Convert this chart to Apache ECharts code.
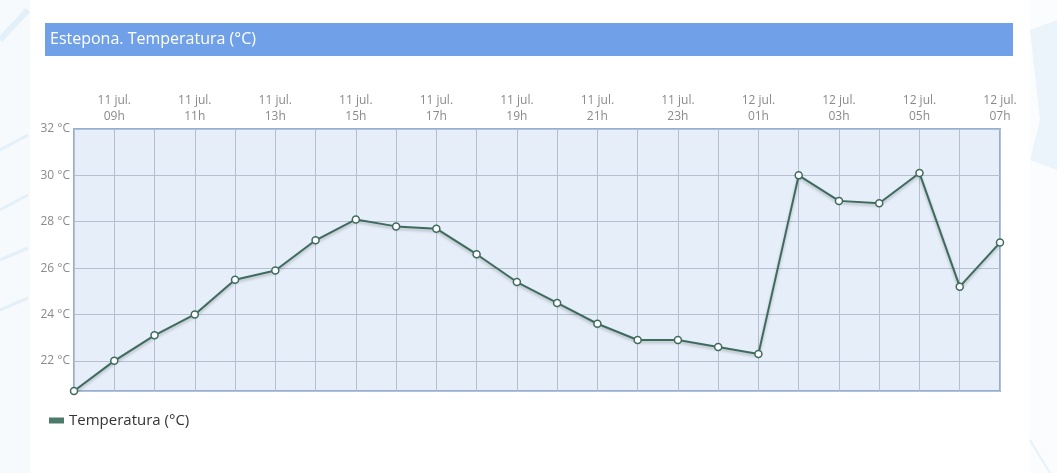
<!DOCTYPE html>
<html>
<head>
<meta charset="utf-8">
<script src="https://cdn.jsdelivr.net/npm/echarts@6/dist/echarts.min.js"></script>
<style>
html,body{margin:0;padding:0;background:#fff;}
#c{width:1057px;height:473px;}
</style>
</head>
<body>
<div id="c"></div>
<script>
const chartTitle = 'Estepona. Temperatura (°C)';
const seriesName = 'Temperatura (°C)';
const categories = [
  '11 jul.\n08h','11 jul.\n09h','11 jul.\n10h','11 jul.\n11h','11 jul.\n12h','11 jul.\n13h',
  '11 jul.\n14h','11 jul.\n15h','11 jul.\n16h','11 jul.\n17h','11 jul.\n18h','11 jul.\n19h',
  '11 jul.\n20h','11 jul.\n21h','11 jul.\n22h','11 jul.\n23h','12 jul.\n00h','12 jul.\n01h',
  '12 jul.\n02h','12 jul.\n03h','12 jul.\n04h','12 jul.\n05h','12 jul.\n06h','12 jul.\n07h'
];
const temperatures = [
  20.7, 22.0, 23.1, 24.0, 25.5, 25.9, 27.2, 28.1, 27.8, 27.7, 26.6, 25.4,
  24.5, 23.6, 22.9, 22.9, 22.6, 22.3, 30.0, 28.9, 28.8, 30.1, 25.2, 27.1
];
const yMin = 20.7;
const yMax = 32;

const chart = echarts.init(document.getElementById('c'), null, {renderer: 'canvas'});
const deco = 'rgba(200,225,242,0.4)';
chart.setOption({
  animation: false,
  backgroundColor: '#ffffff',
  textStyle: {fontFamily: 'Open Sans'},
  graphic: [
    {type: 'rect', left: 0, top: 0, z: -10, shape: {width: 30, height: 473}, style: {fill: '#f7fafd'}},
    {type: 'rect', left: 1030, top: 0, z: -10, shape: {width: 27, height: 473}, style: {fill: '#fbfcfe'}},
    {type: 'polyline', z: -9, shape: {points: [[0,40],[28,10]]}, style: {stroke: deco, lineWidth: 6}},
    {type: 'polyline', z: -9, shape: {points: [[0,150],[28,135]]}, style: {stroke: deco, lineWidth: 3}},
    {type: 'polyline', z: -9, shape: {points: [[0,210],[28,195]]}, style: {stroke: deco, lineWidth: 3}},
    {type: 'polyline', z: -9, shape: {points: [[0,260],[28,248]]}, style: {stroke: deco, lineWidth: 3}},
    {type: 'polyline', z: -9, shape: {points: [[0,310],[28,298]]}, style: {stroke: deco, lineWidth: 3}},
    {type: 'polygon', z: -9, shape: {points: [[1030,30],[1057,20],[1057,170],[1030,160],[1040,120]]}, style: {fill: 'rgba(215,235,248,0.45)'}},
    {type: 'polyline', z: -9, shape: {points: [[1030,440],[1050,473]]}, style: {stroke: deco, lineWidth: 2}},
    {type: 'rect', left: 45, top: 23, z: 5, shape: {width: 968, height: 33}, style: {fill: '#70a0e8'}},
    {type: 'text', left: 50, top: 31, z: 6, style: {text: chartTitle, fill: '#ffffff', font: '16px "Open Sans"'}}
  ],
  legend: {
    left: 49, top: 413, padding: 0,
    itemWidth: 15, itemHeight: 6, itemGap: 10,
    icon: 'rect',
    textStyle: {color: '#333', fontSize: 15, fontFamily: 'Open Sans'},
    data: [{name: seriesName, itemStyle: {color: '#4a7a68', borderWidth: 0}}]
  },
  grid: {
    left: 74, right: 57, top: 129, bottom: 82,
    show: true, backgroundColor: '#e6eff9', borderColor: '#8fb0d8', borderWidth: 2,
    containLabel: false
  },
  xAxis: {
    type: 'category',
    position: 'top',
    boundaryGap: false,
    data: categories,
    axisLine: {show: false},
    axisTick: {show: false},
    axisLabel: {
      interval: function (i) { return i % 2 === 1; },
      color: '#8a8a8a', fontSize: 12, lineHeight: 16, margin: 4, fontFamily: 'Open Sans'
    },
    splitLine: {show: true, interval: 0, lineStyle: {color: '#b6bfcf', width: 1}}
  },
  yAxis: {
    type: 'value',
    min: yMin, max: yMax,
    axisLine: {show: false},
    axisTick: {show: false},
    axisLabel: {
      color: '#8a8a8a', fontSize: 12, margin: 4, fontFamily: 'Open Sans',
      formatter: function (v) { return (Math.abs(v - Math.round(v)) < 1e-6 && Math.round(v) % 2 === 0) ? Math.round(v) + ' °C' : ''; }
    },
    splitLine: {show: true, lineStyle: {color: '#b6bfcf', width: 1}}
  },
  series: [{
    name: seriesName,
    type: 'line',
    data: temperatures,
    symbol: 'circle',
    symbolSize: 7,
    showAllSymbol: true,
    lineStyle: {color: '#3f6b5f', width: 2, shadowColor: 'rgba(0,0,0,0.25)', shadowBlur: 3, shadowOffsetY: 2},
    itemStyle: {color: '#ffffff', borderColor: '#3f6b5f', borderWidth: 1.5},
    z: 3
  }]
});
</script>
</body>
</html>
